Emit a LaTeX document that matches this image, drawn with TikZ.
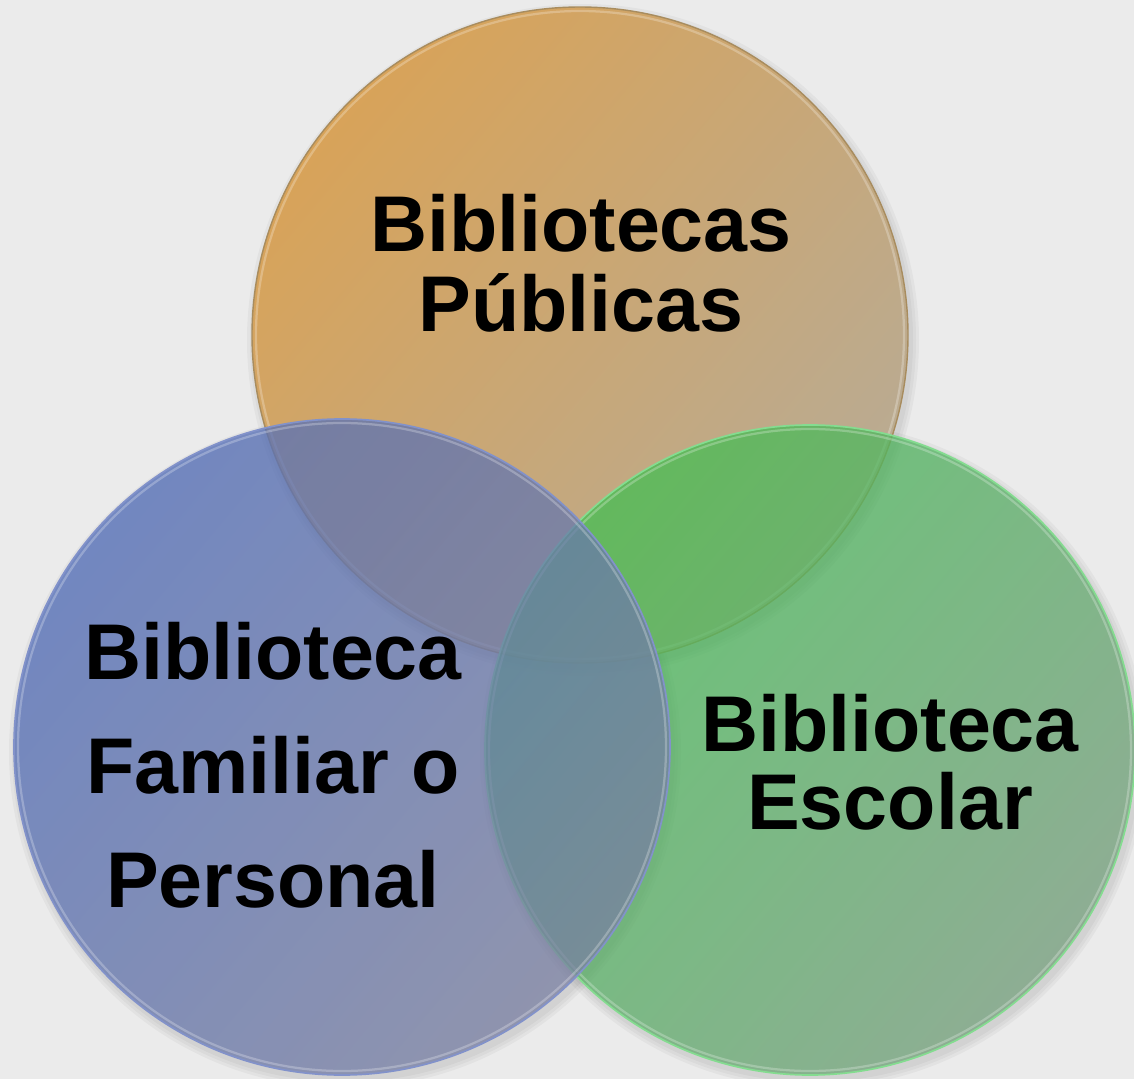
\documentclass[tikz,border=0pt]{standalone}
\usepackage{fontspec}
\setmainfont{Liberation Sans}
\usepackage{xcolor}
\usetikzlibrary{calc}
\definecolor{paper}{HTML}{EBEBEB}
\definecolor{pubA}{HTML}{D8A359}
\definecolor{pubB}{HTML}{B9AB93}
\definecolor{publine}{HTML}{A88C5E}
\definecolor{famA}{RGB}{82,110,186}
\definecolor{famB}{RGB}{122,128,162}
\definecolor{famline}{HTML}{8292CA}
\definecolor{escA}{RGB}{62,192,80}
\definecolor{escB}{RGB}{116,160,124}
\definecolor{escline}{HTML}{84DC90}
\tikzset{
	bibtext/.style={font=\fontsize{56.2}{#1}\selectfont\bfseries,align=center,inner sep=0pt},
	rim/.style={white,opacity=0.25,line width=1.6pt},
}

\begin{document}
\begin{tikzpicture}[x=0.025cm,y=-0.025cm]
	\useasboundingbox (0,0) rectangle (1134,1079);
	\fill[paper] (0,0) rectangle (1134,1079);
	\clip (0,0) rectangle (1134,1079);
	\coordinate (cpub) at (580,335);
	\coordinate (cfam) at (342,747);
	\coordinate (cesc) at (810,750);
	
	% soft shadows
	\foreach \c/\r in {cpub/328,cfam/328,cesc/325}
	\foreach \d in {2,5,8}
	\fill[black,opacity=0.035] ($(\c)+(3,5)$) circle (\r+\d);
	
	% the three circles
	\shade[top color=pubA,bottom color=pubB,shading angle=50] (cpub) circle (328);
	\draw[publine,line width=1pt] (cpub) circle (328);
	\draw[rim] (cpub) circle (324);
	\shade[top color=escA,bottom color=escB,shading angle=50,opacity=0.72] (cesc) circle (325);
	\draw[escline,line width=1.2pt] (cesc) circle (325);
	\draw[rim] (cesc) circle (321);
	\shade[top color=famA,bottom color=famB,shading angle=50,opacity=0.75] (cfam) circle (328);
	\draw[famline,line width=1.2pt] (cfam) circle (328);
	\draw[rim] (cfam) circle (324);
	
	\node[bibtext=56.9pt] (publicas) at (581,263.5) {Bibliotecas\\Públicas};
	\node[bibtext=81.1pt] (familiar) at (273,765) {Biblioteca\\Familiar o\\Personal};
	\node[bibtext=55.5pt] (escolar) at (890,762.5) {Biblioteca\\Escolar};
\end{tikzpicture}
\end{document}
